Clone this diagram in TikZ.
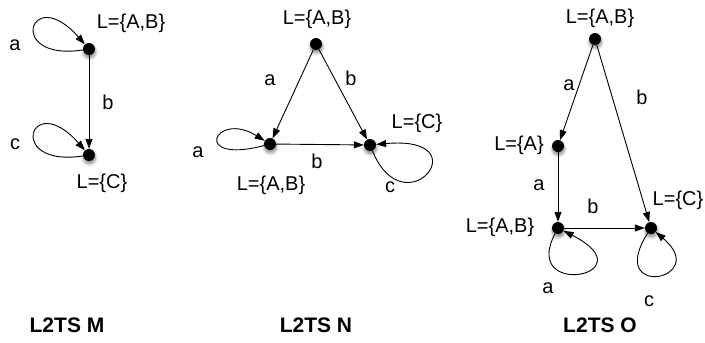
\documentclass[tikz,border=0pt]{standalone}
\usepackage{fontspec}
\setmainfont{Liberation Sans}
\usetikzlibrary{arrows.meta,shadows.blur}
\begin{document}
\begin{tikzpicture}[x=1pt,y=-1pt,
  dot/.style={circle, fill=black, minimum size=12pt, inner sep=0pt,
    blur shadow={shadow blur steps=6, shadow xshift=0.5pt, shadow yshift=-3pt, shadow blur radius=3pt, shadow opacity=45}},
  lbl/.style={font=\fontsize{20}{24}\selectfont, inner sep=0pt},
  ttl/.style={font=\fontsize{21}{25}\selectfont\bfseries, inner sep=0pt},
  arr/.style={-{Triangle[length=10pt,width=7pt]}, line width=0.9pt}]
\useasboundingbox (0,0) rectangle (705,343);

% ---------- L2TS M ----------
\node[dot] (m1) at (89,49) {};
\node[dot] (m2) at (89,155) {};
\draw[arr] (m1) -- (m2);
\draw[arr] (m1) .. controls (5,62) and (30,-18) .. (m1);
\draw[arr] (m2) .. controls (5,168) and (30,88) .. (m2);
\node[lbl] (mL1) at (131,23) {L=\{A,B\}};
\node[lbl] (mL2) at (102,183) {L=\{C\}};
\node[lbl] (ma) at (15,45) {a};
\node[lbl] (mb) at (108,102) {b};
\node[lbl] (mc) at (15,144) {c};
\node[ttl] (mt) at (67,325) {L2TS M};

% ---------- L2TS N ----------
\node[dot] (n1) at (316,44) {};
\node[dot] (n2) at (270,144) {};
\node[dot] (n3) at (370,145) {};
\draw[arr] (n1) -- (n2);
\draw[arr] (n1) -- (n3);
\draw[arr] (n2) -- (n3);
\draw[arr] (n2) .. controls (190,165) and (215,110) .. (n2);
\draw[arr] (n3) .. controls (405,230) and (482,135) .. (n3);
\node[lbl] (nL1) at (317,19) {L=\{A,B\}};
\node[lbl] (nL2) at (271,185) {L=\{A,B\}};
\node[lbl] (nL3) at (417,123) {L=\{C\}};
\node[lbl] (na1) at (270,80) {a};
\node[lbl] (nb1) at (351,78) {b};
\node[lbl] (na2) at (198,152) {a};
\node[lbl] (nb2) at (317,161) {b};
\node[lbl] (nc) at (390,187) {c};
\node[ttl] (nt) at (316,325) {L2TS N};

% ---------- L2TS O ----------
\node[dot] (o1) at (595,39) {};
\node[dot] (o2) at (558,146) {};
\node[dot] (o3) at (558,228) {};
\node[dot] (o4) at (651,228) {};
\draw[arr] (o1) -- (o2);
\draw[arr] (o1) -- (o4);
\draw[arr] (o2) -- (o3);
\draw[arr] (o3) -- (o4);
\draw[arr] (o3) .. controls (520,300) and (650,275) .. (o3);
\draw[arr] (o4) .. controls (605,300) and (712,280) .. (o4);
\node[lbl] (oL1) at (600,18) {L=\{A,B\}};
\node[lbl] (oL2) at (519,145) {L=\{A\}};
\node[lbl] (oL3) at (500,227) {L=\{A,B\}};
\node[lbl] (oL4) at (678,200) {L=\{C\}};
\node[lbl] (oa1) at (569,85) {a};
\node[lbl] (ob1) at (642,97) {b};
\node[lbl] (oa2) at (539,185) {a};
\node[lbl] (ob2) at (593,206) {b};
\node[lbl] (oa3) at (548,288) {a};
\node[lbl] (oc) at (649,301) {c};
\node[ttl] (ot) at (600,325) {L2TS O};
\end{tikzpicture}
\end{document}
